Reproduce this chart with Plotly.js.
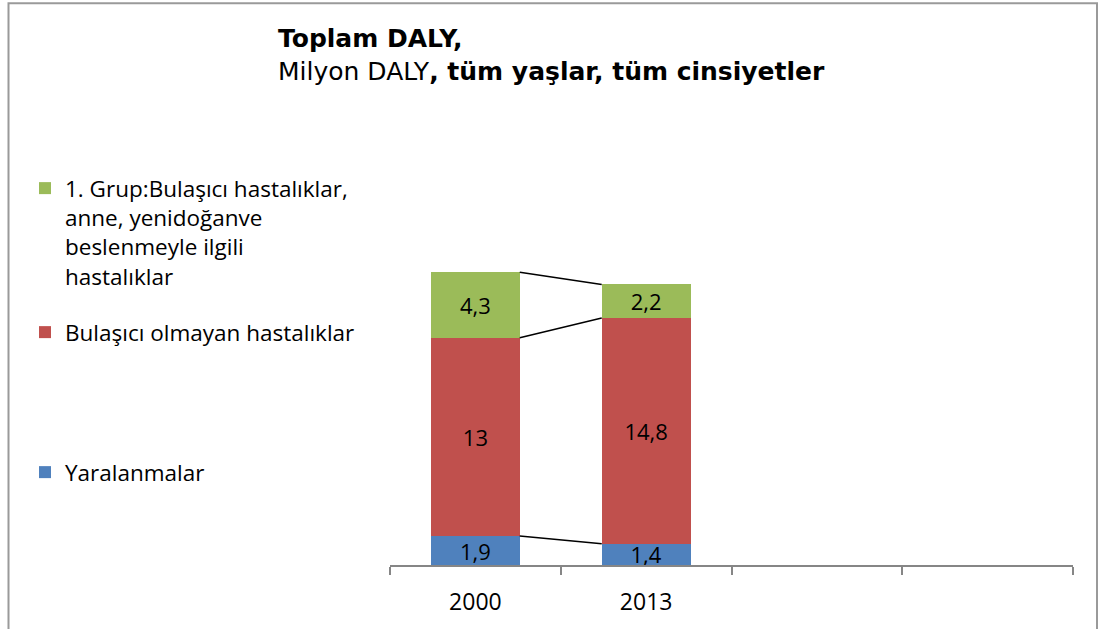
<!DOCTYPE html>
<html>
<head>
<meta charset="utf-8">
<script src="https://cdn.plot.ly/plotly-3.0.1.min.js"></script>
<style>html,body{margin:0;padding:0;background:#fff;}#chart{width:1101px;height:629px;}</style>
</head>
<body>
<div id="chart"></div>
<script>
// ---- data ----
var years = ['2000', '2013'];
var injuries = [1.9, 1.4];          // Yaralanmalar
var ncd = [13, 14.8];               // Bulaşıcı olmayan hastalıklar
var group1 = [4.3, 2.2];            // 1. Grup
var seriesNames = [
  'Yaralanmalar',
  'Bulaşıcı olmayan hastalıklar',
  '1. Grup:Bulaşıcı hastalıklar,<br>anne, yenidoğanve<br>beslenmeyle ilgili<br>hastalıklar'
];
var colors = ['#4F81BD', '#C0504D', '#9BBB59'];

var pos = years.map(function (_, i) { return i; });
var barW = 0.52;
function lbl(arr) { return arr.map(function (v) { return String(v).replace('.', ','); }); }
function cum(a, b) { return a.map(function (v, i) { return v + (b ? b[i] : 0); }); }

var top1 = injuries.slice();
var top2 = cum(injuries, ncd);
var top3 = cum(top2, group1);

var font = 'Open Sans, sans-serif';
function barTrace(vals, name, color, legend) {
  return {
    type: 'bar', x: pos, y: vals, name: name, width: barW,
    marker: { color: color, line: { width: 0 } },
    text: lbl(vals), textposition: 'inside', insidetextanchor: 'middle',
    constraintext: 'none', textangle: 0, cliponaxis: false,
    textfont: { family: font, size: 22, color: '#000' },
    legend: legend, hoverinfo: 'skip'
  };
}
function connector(tops) {
  return {
    type: 'scatter', mode: 'lines', xaxis: 'x2',
    x: [pos[0] + barW / 2, pos[1] - barW / 2], y: tops,
    line: { color: '#000', width: 1.5 }, showlegend: false, hoverinfo: 'skip'
  };
}

var data = [
  barTrace(injuries, seriesNames[0], colors[0], 'legend3'),
  barTrace(ncd, seriesNames[1], colors[1], 'legend2'),
  barTrace(group1, seriesNames[2], colors[2], 'legend'),
  connector(top1), connector(top2), connector(top3)
];

var legFont = { family: font, size: 22.5, color: '#000' };
function leg(ypix) {
  return {
    xref: 'container', yref: 'container', x: 25 / 1101, y: 1 - ypix / 629,
    xanchor: 'left', yanchor: 'top', bgcolor: 'rgba(0,0,0,0)', borderwidth: 0,
    font: legFont, valign: 'top', itemclick: false, itemdoubleclick: false
  };
}

var layout = {
  width: 1101, height: 629,
  margin: { l: 390, r: 28, t: 259.6, b: 64, pad: 0 },
  paper_bgcolor: '#fff', plot_bgcolor: '#fff',
  barmode: 'stack', separators: ',.',
  showlegend: true,
  legend: leg(167),
  legend2: leg(311),
  legend3: leg(451),
  title: {
    text: '<b>Toplam DALY,</b><br>Milyon DALY<b>, tüm yaşlar, tüm cinsiyetler</b>',
    xref: 'container', yref: 'container', x: 278 / 1101, xanchor: 'left',
    y: 1 - 47 / 629, yanchor: 'top',
    font: { family: 'DejaVu Sans, sans-serif', size: 25, color: '#000' }
  },
  xaxis: {
    range: [-0.5, 3.5], fixedrange: true,
    tickmode: 'array', tickvals: [-0.5, 0.5, 1.5, 2.5, 3.5],
    showticklabels: false, ticks: 'outside', ticklen: 8, tickwidth: 2, tickcolor: '#868686',
    showline: true, linecolor: '#868686', linewidth: 2, showgrid: false, zeroline: false
  },
  xaxis2: {
    overlaying: 'x', anchor: 'y', side: 'bottom', range: [-0.5, 3.5], fixedrange: true,
    tickmode: 'array', tickvals: pos, ticktext: years,
    ticks: 'outside', ticklen: 16, tickcolor: 'rgba(0,0,0,0)',
    tickfont: { family: font, size: 23, color: '#000' },
    showline: false, showgrid: false, zeroline: false
  },
  yaxis: {
    range: [0, 20], visible: false, fixedrange: true, showgrid: false, zeroline: false
  },
  shapes: [{
    type: 'rect', xref: 'paper', yref: 'paper', layer: 'below',
    x0: (8.5 - 390) / 683, x1: (1097 - 390) / 683,
    y0: -0.3, y1: (565 - 2.5) / 305.4,
    line: { color: '#9a9a9a', width: 2 }, fillcolor: 'rgba(0,0,0,0)'
  }],
  hovermode: false
};

Plotly.newPlot('chart', data, layout, { displayModeBar: false, staticPlot: true });
</script>
</body>
</html>
